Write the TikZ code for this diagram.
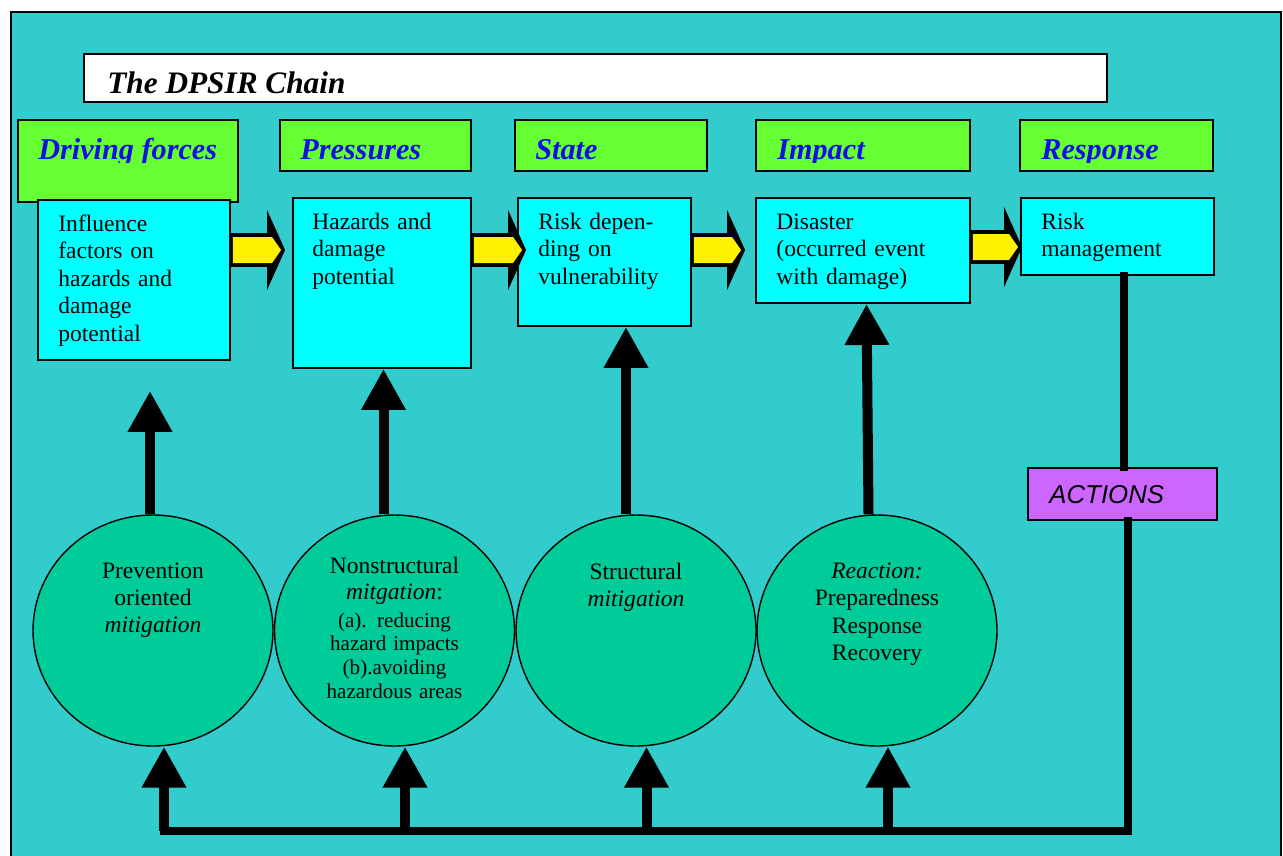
\documentclass[tikz,border=0pt]{standalone}
\usepackage{fontspec}
\setmainfont{Liberation Serif}
\setsansfont{Liberation Sans}
\usetikzlibrary{arrows.meta}
\usetikzlibrary{shapes.geometric}
\usetikzlibrary{calc}

\definecolor{bgteal}{RGB}{51,204,204}
\definecolor{headgreen}{RGB}{102,255,51}
\definecolor{boxcyan}{RGB}{0,255,255}
\definecolor{ellgreen}{RGB}{0,204,153}
\definecolor{actpurple}{RGB}{204,102,255}
\definecolor{headblue}{RGB}{16,16,230}

\tikzset{
  headbox/.style={draw, line width=1.1pt, fill=headgreen, minimum height=1.02cm, inner sep=0pt},
  cbox/.style={draw, line width=1.1pt, fill=boxcyan, inner sep=0pt},
  mitig/.style={draw, line width=0.8pt, fill=ellgreen, ellipse, minimum width=4.8cm, minimum height=4.62cm, inner sep=0pt},
  headtext/.style={anchor=base west, inner sep=0pt, text=headblue, font=\fontsize{17.2}{20}\selectfont\bfseries\itshape},
  boxtext/.style={anchor=base west, inner sep=0pt, text width=3.6cm, align=left, font=\fontsize{13.4}{15.7}\selectfont},
  elltext/.style={anchor=base, inner sep=0pt, text width=4.4cm, align=center, font=\fontsize{13.4}{15.6}\selectfont},
  uparr/.style={line width=0.2cm, -{Triangle[width=0.84cm,length=0.82cm]}},
  busline/.style={line width=0.16cm, line cap=rect}
}

% block arrow: from node, to node, y, tip offset from target west
\newcommand{\fatarrow}[4]{%
  \fill[black] let \p1=(#1.east |- 0,#3), \p2=($(#2.west |- 0,#3)+(#4,0)$) in
    (\x1,\y1+0.34cm) -- (\x2-0.36cm,\y1+0.34cm) -- (\x2-0.36cm,\y1+0.8cm) -- (\x2,\y1)
    -- (\x2-0.36cm,\y1-0.8cm) -- (\x2-0.36cm,\y1-0.34cm) -- (\x1,\y1-0.34cm) -- cycle;
  \fill[yellow] let \p1=(#1.east |- 0,#3), \p2=($(#2.west |- 0,#3)+(#4,0)$) in
    (\x1+0.04cm,\y1+0.26cm) -- (\x2-0.26cm,\y1+0.26cm) -- (\x2-0.08cm,\y1)
    -- (\x2-0.26cm,\y1-0.26cm) -- (\x1+0.04cm,\y1-0.26cm) -- cycle;}

\begin{document}
\begin{tikzpicture}[x=0.02cm, y=-0.02cm]

    \clip (0,0) rectangle (1283,855);
    \fill[white] (0,0) rectangle (1283,855);
    \draw[fill=bgteal, line width=1pt] (11,12) rectangle (1281,900);

    % title
    \node[draw, line width=1.1pt, fill=white, minimum width=20.46cm, minimum height=0.96cm, inner sep=0pt] (title) at (595.5,78) {};
    \begin{scope}
        \clip (0,0) rectangle (1283,94.5);
        \node[anchor=base west, inner sep=0pt, font=\fontsize{17.8}{20}\selectfont\bfseries\itshape] (title-t) at (107,93) {The DPSIR Chain};
    \end{scope}

    % DPSIR headers
    \node[headbox, minimum width=4.4cm, minimum height=1.64cm] (drv) at (128,161) {};
    \node[headbox, minimum width=3.82cm] (prs) at (375.5,145.5) {};
    \node[headbox, minimum width=3.84cm] (sta) at (611,145.5) {};
    \node[headbox, minimum width=4.28cm] (imp) at (863,145.5) {};
    \node[headbox, minimum width=3.86cm] (rsp) at (1116.5,145.5) {};
    \begin{scope}
        \clip (0,0) rectangle (1283,162);
        \node[headtext] (drv-t) at (38,159) {Driving forces};
        \node[headtext] (prs-t) at (300,159) {Pressures};
        \node[headtext] (sta-t) at (535,159) {State};
        \node[headtext] (imp-t) at (777,159) {Impact};
        \node[headtext] (rsp-t) at (1041,159) {Response};
    \end{scope}

    % chain boxes
    \node[cbox, minimum width=3.84cm, minimum height=3.2cm] (inf) at (134,280) {};
    \node[cbox, minimum width=3.56cm, minimum height=3.4cm] (haz) at (382,283) {};
    \node[cbox, minimum width=3.46cm, minimum height=2.56cm] (rsk) at (604.5,262) {};
    \node[cbox, minimum width=4.28cm, minimum height=2.1cm] (dis) at (863,250.5) {};
    \node[cbox, minimum width=3.86cm, minimum height=1.54cm] (rmg) at (1117.5,236.5) {};

    \node[boxtext] (inf-t) at ($(inf.north west)+(21,32)$) {Influence\\factors on\\hazards and\\damage\\potential};
    \node[boxtext] (haz-t) at ($(haz.north west)+(20,32)$) {Hazards and\\damage\\potential};
    \node[boxtext] (rsk-t) at ($(rsk.north west)+(21,32)$) {Risk depen-\\ding on\\vulnerability};
    \node[boxtext] (dis-t) at ($(dis.north west)+(21,32)$) {Disaster\\(occurred event\\with damage)};
    \node[boxtext] (rmg-t) at ($(rmg.north west)+(21,32)$) {Risk\\management};

    \fatarrow{inf}{haz}{250}{-7}
    \fatarrow{haz}{rsk}{250}{9}
    \fatarrow{rsk}{dis}{250}{-10}
    \fatarrow{dis}{rmg}{247}{2}

    % mitigation circles
    \node[mitig] (ell1) at (153,630.5) {};
    \node[mitig] (ell2) at (394.5,630.5) {};
    \node[mitig] (ell3) at (636,630.5) {};
    \node[mitig] (ell4) at (877,630.5) {};

    \node[elltext] (ell1-t) at (153,578) {Prevention\\oriented\\\textit{mitigation}};
    \node[elltext, font=\fontsize{13.4}{15.3}\selectfont] (ell2-t) at (394.5,573) {Nonstructural\\\textit{mitgation}:};
    \node[elltext, font=\fontsize{12}{13.6}\selectfont] (ell2-u) at (394.5,627) {(a). reducing\\hazard impacts\\(b).avoiding\\hazardous areas};
    \node[elltext] (ell3-t) at (636,579) {Structural\\\textit{mitigation}};
    \node[elltext, font=\fontsize{13.4}{15.7}\selectfont] (ell4-t) at (877,578) {\textit{Reaction:}\\Preparedness\\Response\\Recovery};

    % actions
    \node[draw, line width=1.1pt, fill=actpurple, minimum width=3.78cm, minimum height=1.04cm, inner sep=0pt] (act) at (1122.5,494) {};
    \node[anchor=base west, inner sep=0pt, font=\fontsize{14.7}{17}\selectfont\sffamily\itshape] (act-t) at (1049,503) {ACTIONS};

    % arrows into the chain
    \draw[uparr] (ell1.north -| 150,0) -- ($(inf.south -| 150,0)+(0,30)$);
    \draw[uparr] (ell2.north -| 383.5,0) -- (haz.south -| 383.5,0);
    \draw[uparr] (ell3.north -| 626,0) -- (rsk.south -| 626,0);
    \draw[uparr] (ell4.north -| 868.5,0) -- (dis.south -| 866.5,0);

    % feedback from response
    \coordinate (b1) at (164,830.5);
    \coordinate (b2) at (405,830.5);
    \coordinate (b3) at (646.5,830.5);
    \coordinate (b4) at (888,830.5);
    \draw[busline] (rmg.south -| 1123.5,0) -- (act.north -| 1123.5,0);
    \draw[busline] (act.south -| 1127.5,0) |- (b1);
    \draw[uparr] (b1) -- (b1 |- ell1.south);
    \draw[uparr] (b2) -- (b2 |- ell2.south);
    \draw[uparr] (b3) -- (b3 |- ell3.south);
    \draw[uparr] (b4) -- (b4 |- ell4.south);

\end{tikzpicture}
\end{document}
